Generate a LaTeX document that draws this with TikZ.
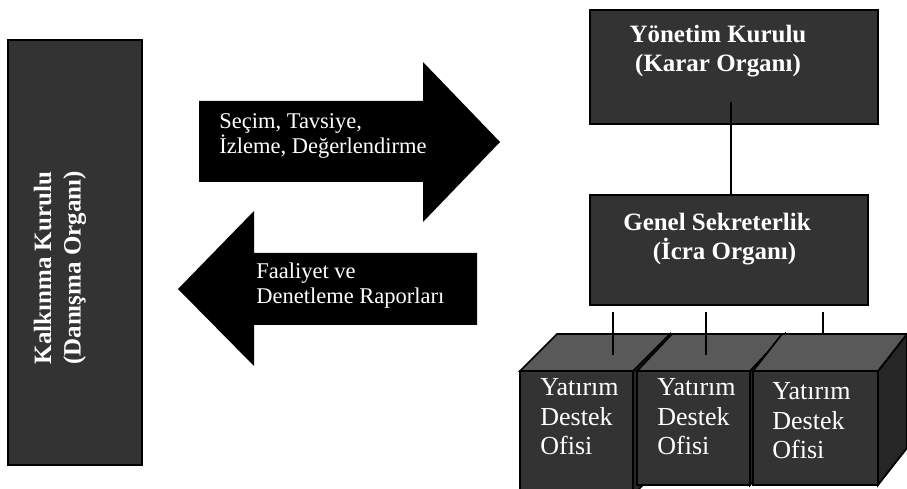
\documentclass[tikz,border=0pt]{standalone}
\usepackage{fontspec}
\setmainfont{Liberation Serif}
\definecolor{KKGray}{HTML}{333333}
\definecolor{KKTop}{HTML}{595959}
\definecolor{KKSide}{HTML}{262626}
\usetikzlibrary{positioning,fit,calc}

\begin{document}
\begin{tikzpicture}[x=0.02cm, y=-0.02cm,
    org/.style={rectangle, draw=black, line width=1pt, fill=KKGray, inner sep=0pt},
    boldtxt/.style={text=white, font=\fontsize{14.2}{16.8}\selectfont\bfseries, align=center, inner sep=0pt},
    arrtxt/.style={text=white, font=\fontsize{12.8}{14.7}\selectfont, align=left, inner sep=0pt, anchor=base west},
    ofistxt/.style={text=white, font=\fontsize{14.8}{17}\selectfont, align=left, inner sep=0pt, anchor=base west},
    blockarrow/.style={fill=black},
    link/.style={draw=black, line width=0.8pt}]
  \useasboundingbox (0,0) rectangle (907,489);
  % sol: danisma organi
  \node[org, fit={(8,40) (142,465)}] (kk) {};
  \node[boldtxt, rotate=90] (kktxt) at (60,268) {Kalkınma Kurulu\\(Danışma Organı)};
  % blok oklar
  \fill[blockarrow] (199,101) -- (423,101) -- (423,62) -- (500,142) -- (423,222) -- (423,182) -- (199,182) -- cycle;
  \fill[blockarrow] (477,253) -- (254,253) -- (254,211) -- (178,289) -- (254,366) -- (254,325) -- (477,325) -- cycle;
  \node[arrtxt] (secim) at (219,154) {Seçim, Tavsiye,\\İzleme, Değerlendirme};
  \node[arrtxt] (rapor) at (256,304) {Faaliyet ve\\Denetleme Raporları};
  % sag: yonetim kurulu ve genel sekreterlik
  \node[org, fit={(590,10) (878,124)}] (yk) {};
  \node[boldtxt, anchor=base] (yktxt) at (718,72) {Yönetim Kurulu\\(Karar Organı)};
  \node[org, fit={(590,195) (868,305)}] (gs) {};
  \node[boldtxt, anchor=base] (gstxt) at (717,260) {Genel Sekreterlik\\\hspace*{0.6em}(İcra Organı)};
  \coordinate (ykdrop) at (731,102);
  \draw[link] (ykdrop) -- (ykdrop |- gs.north);
  % yatirim destek ofisleri
  \foreach \xa/\xb/\yb/\dx/\n in {520/633/495/37/1, 637/750/485/35/2, 753/878/485/29/3}{
    \filldraw[fill=KKSide, draw=black, line width=1pt] (\xb,371) -- (\xb+\dx,334) -- (\xb+\dx,\yb-37) -- (\xb,\yb) -- cycle;
    \filldraw[fill=KKTop, draw=black, line width=1pt] (\xa,371) -- (\xa+\dx,334) -- (\xb+\dx,334) -- (\xb,371) -- cycle;
    \node[org, fit={(\xa,371) (\xb,\yb)}] (ydo\n) {};
  }
  \node[ofistxt] (ydotxt1) at (540,455) {Yatırım\\Destek\\Ofisi};
  \node[ofistxt] (ydotxt2) at (657,455) {Yatırım\\Destek\\Ofisi};
  \node[ofistxt] (ydotxt3) at (772,459) {Yatırım\\Destek\\Ofisi};
  \foreach \x/\ye/\n in {613/355/1, 706/355/2, 823/335/3}{
    \coordinate (drop\n) at (\x,\ye);
    \draw[link] ($(gs.south -| drop\n)+(0,6)$) -- (drop\n);
  }
\end{tikzpicture}
\end{document}
